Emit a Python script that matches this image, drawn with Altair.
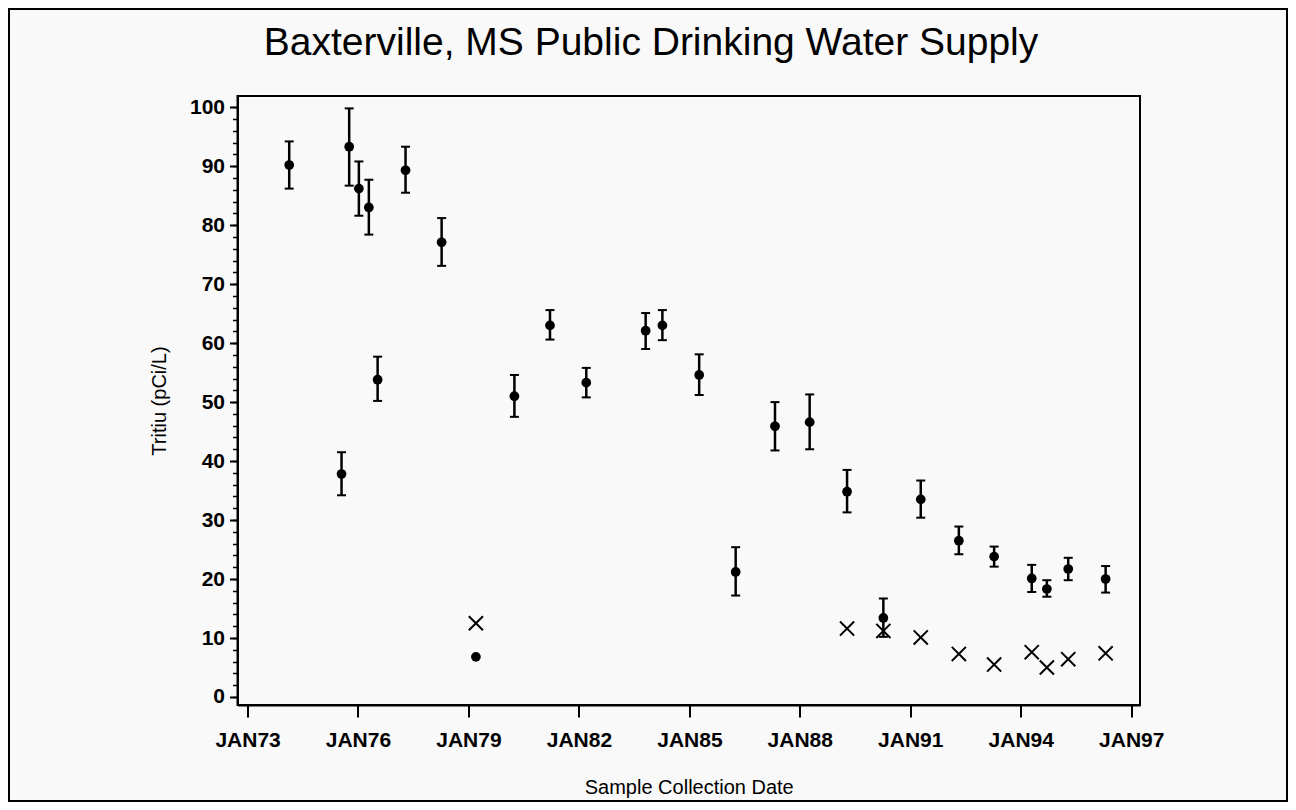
import altair as alt
import pandas as pd

# ---- data ----
dates = ["1974-02-18", "1975-07-22", "1975-10-06", "1976-01-10", "1976-04-18", "1976-07-14",
         "1977-04-17", "1978-04-10", "1979-03-16", "1980-04-01", "1981-03-20", "1982-03-15",
         "1983-10-25", "1984-04-08", "1985-04-08", "1986-04-05", "1987-04-30", "1988-04-08",
         "1989-04-14", "1990-04-09", "1991-04-15", "1992-04-27", "1993-04-12", "1994-04-20",
         "1994-09-17", "1995-04-17", "1996-04-22"]
tritium = [90.2, 37.8, 93.3, 86.2, 83.0, 53.8, 89.3, 77.1, 6.8, 51.0, 63.0, 53.3, 62.1, 63.0,
           54.6, 21.2, 45.9, 46.6, 34.8, 13.4, 33.5, 26.5, 23.8, 20.1, 18.3, 21.7, 20.0]
err_low = [86.2, 34.2, 86.7, 81.6, 78.4, 50.2, 85.5, 73.1, None, 47.5, 60.6, 50.8, 59.0, 60.5,
           51.2, 17.2, 41.8, 42.0, 31.3, 10.2, 30.4, 24.2, 22.1, 17.8, 17.0, 19.8, 17.7]
err_high = [94.2, 41.5, 99.8, 90.8, 87.7, 57.7, 93.3, 81.2, None, 54.6, 65.6, 55.8, 65.1, 65.6,
            58.1, 25.4, 50.0, 51.3, 38.5, 16.7, 36.7, 28.9, 25.5, 22.4, 19.8, 23.6, 22.2]

cross_dates = ["1979-03-16", "1989-04-14", "1990-04-09", "1991-04-15", "1992-04-27",
               "1993-04-12", "1994-04-20", "1994-09-17", "1995-04-17", "1996-04-22"]
cross_values = [12.5, 11.6, 11.2, 10.1, 7.3, 5.5, 7.6, 5.0, 6.4, 7.4]

tick_years = [1973, 1976, 1979, 1982, 1985, 1988, 1991, 1994, 1997]
y_major = list(range(0, 101, 10))
y_minor = list(range(0, 101, 2))

title_text = "Baxterville, MS Public Drinking Water Supply"
x_title = "Sample Collection Date"
y_title = "Tritiu  (pCi/L)"

# ---- tables ----
df = pd.DataFrame({"date": dates, "tritium": tritium, "lo": err_low, "hi": err_high})
err_df = df.dropna()
cross_df = pd.DataFrame({"date": cross_dates, "tritium": cross_values})


def dt(y, m, d):
    return alt.DateTime(year=y, month=m, date=d, utc=True)


FONT = "Liberation Sans"

x_scale = alt.Scale(type="utc", domain=[dt(1972, 9, 23), dt(1997, 3, 29)])
x_axis = alt.Axis(values=[dt(y, 1, 1) for y in tick_years],
                  labelExpr="'JAN' + utcFormat(datum.value, '%y')",
                  title=x_title, grid=False, tickSize=12, tickWidth=2,
                  labelFont=FONT, labelFontSize=21, labelFontWeight="bold",
                  labelColor="black", labelPadding=12, labelAngle=0,
                  titleFont=FONT, titleFontSize=20, titleFontWeight="normal",
                  titleColor="black", titlePadding=27)
x_enc = alt.X("date:T", scale=x_scale, axis=x_axis)

y_scale = alt.Scale(domain=[-1.36, 101.9], nice=False, zero=False)
major_axis = alt.Axis(values=y_major, title=y_title, orient="left", grid=False,
                      tickSize=8, tickWidth=2,
                      labelFont=FONT, labelFontSize=21, labelFontWeight="bold",
                      labelColor="black", labelPadding=5,
                      titleFont=FONT, titleFontSize=20, titleFontWeight="normal",
                      titleColor="black", titlePadding=20)
minor_axis = alt.Axis(values=y_minor, title=None, labels=False, grid=False, tickSize=5,
                      tickWidth=1.5, domain=False, orient="left")

rules = alt.Chart(err_df).mark_rule(color="black", strokeWidth=2.5).encode(
    x=x_enc,
    y=alt.Y("lo:Q", scale=y_scale, axis=minor_axis),
    y2="hi:Q",
)
caps_lo = alt.Chart(err_df).mark_tick(orient="horizontal", color="black", size=9,
                                      thickness=2, opacity=1).encode(
    x=x_enc, y=alt.Y("lo:Q", scale=y_scale, axis=None))
caps_hi = alt.Chart(err_df).mark_tick(orient="horizontal", color="black", size=9,
                                      thickness=2, opacity=1).encode(
    x=x_enc, y=alt.Y("hi:Q", scale=y_scale, axis=None))
dots = alt.Chart(df).mark_point(shape="circle", filled=True, size=95, color="black",
                                opacity=1).encode(
    x=x_enc, y=alt.Y("tritium:Q", scale=y_scale, axis=major_axis))
crosses = alt.Chart(cross_df).mark_point(shape="M-1,-1L1,1M-1,1L1,-1", filled=False,
                                         size=200, strokeWidth=2, color="black",
                                         opacity=1).encode(
    x=x_enc, y=alt.Y("tritium:Q", scale=y_scale, axis=None))

frame = alt.Chart(alt.Data(values=[{"k": 1}])).mark_rect(
    fillOpacity=0, stroke="black", strokeWidth=2).encode(
    x=alt.value(-228.5), x2=alt.value(1049.5), y=alt.value(-87), y2=alt.value(705))

title = alt.Chart(alt.Data(values=[{"t": title_text}])).mark_text(
    font=FONT, fontSize=39, color="black", align="center", baseline="middle").encode(
    text="t:N", x=alt.value(413.5), y=alt.value(-53))

chart = alt.layer(rules, caps_lo, caps_hi, dots, crosses, frame, title).resolve_axis(
    y="independent"
).properties(
    width=902.5, height=609,
    padding={"left": 229.5, "top": 88, "right": 148, "bottom": 97},
    autosize=alt.AutoSizeParams(type="none"),
).configure(
    background="#f9f9f9",
).configure_view(
    stroke="black", strokeWidth=2,
).configure_axis(
    domainColor="black", domainWidth=2, tickColor="black",
)

chart.save("out.html", embed_options={"renderer": "svg", "actions": False})
